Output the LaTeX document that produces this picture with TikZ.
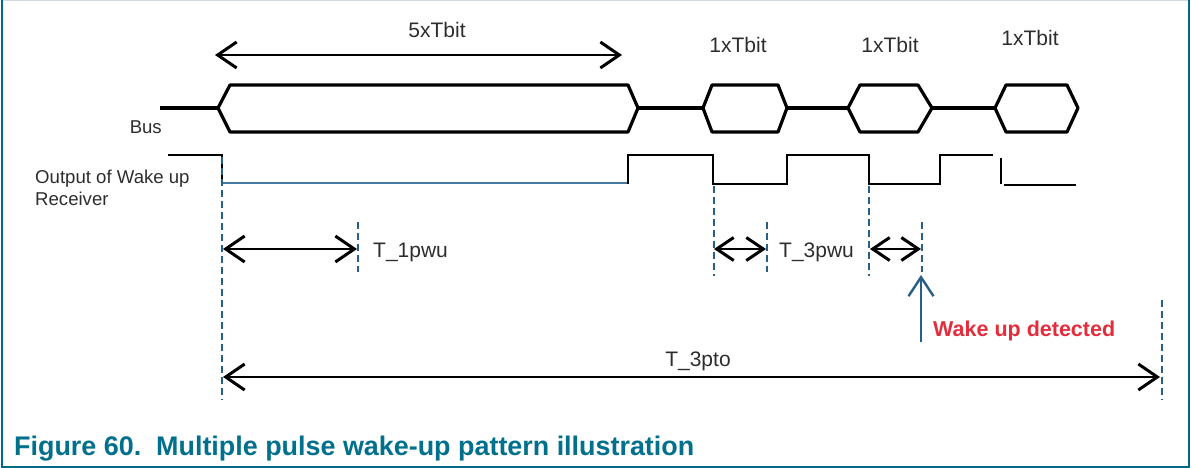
\documentclass[tikz,border=0pt]{standalone}
\usepackage{fontspec}
\setmainfont{Liberation Sans}
\usetikzlibrary{arrows.meta}
\definecolor{framec}{RGB}{0,105,135}
\definecolor{toplinec}{RGB}{205,220,228}
\definecolor{captc}{RGB}{0,112,140}
\definecolor{guidec}{RGB}{40,95,135}
\definecolor{thinblue}{RGB}{70,120,160}
\definecolor{wred}{RGB}{228,45,60}
\definecolor{txt}{RGB}{45,45,45}
\begin{document}
\begin{tikzpicture}[x=1pt,y=-1pt,
  busline/.style={line width=3.2pt, line join=round, black},
  sigline/.style={line width=2.6pt, black},
  guide/.style={line width=2.3pt, guidec, dash pattern=on 7pt off 4pt},
  barb/.tip={Straight Barb[length=19pt,width=26pt,line width=3pt]},
  sbarb/.tip={Straight Barb[length=17pt,width=23pt,line width=3pt]},
  dimarrow/.style={line width=2.8pt, black, {barb}-{barb}},
  sdimarrow/.style={line width=2.8pt, black, {sbarb}-{sbarb}},
  lbl/.style={font=\fontsize{21}{24}\selectfont, text=txt, inner sep=0pt},
  slbl/.style={font=\fontsize{18.6}{22}\selectfont, text=txt, inner sep=0pt},
]
\useasboundingbox (0,0) rectangle (1192,468);
% frame
\draw[toplinec, line width=1.5pt] (1.5,0.75) -- (1188.5,0.75);
\draw[framec, line width=2pt] (1.5,0) -- (1.5,466.5) -- (1188.5,466.5) -- (1188.5,0);

% bus
\draw[busline] (160,108) -- (218,108);
\draw[busline] (218,108) -- (230,85) -- (628,85) -- (638,108) -- (628,132) -- (230,132) -- cycle;
\draw[busline] (638,108) -- (703,108);
\draw[busline] (703,108) -- (712,85) -- (778,85) -- (787,108) -- (778,132) -- (712,132) -- cycle;
\draw[busline] (787,108) -- (848,108);
\draw[busline] (848,108) -- (860,85) -- (918,85) -- (932,108) -- (918,132) -- (860,132) -- cycle;
\draw[busline] (932,108) -- (995,108);
\draw[busline] (995,108) -- (1006,85) -- (1067,85) -- (1078,108) -- (1067,132) -- (1006,132) -- cycle;

% output of wake up receiver
\draw[sigline] (168,155) -- (222,155) -- (222,183);
\draw[thinblue, line width=1.6pt] (222,183) -- (628,183);
\draw[sigline] (628,184) -- (628,155) -- (713,155) -- (713,184) -- (787,184) -- (787,155) -- (869,155) -- (869,184) -- (940,184) -- (940,155) -- (993,155);
\draw[sigline] (1001,158) -- (1001,184);
\draw[sigline] (1004,185) -- (1076,185);

% guide coordinates
\coordinate (g0t) at (222,157);  \coordinate (g0b) at (222,400);
\coordinate (g1t) at (358,222);  \coordinate (g1b) at (358,272);
\coordinate (g2t) at (714,186);  \coordinate (g2b) at (714,276);
\coordinate (g3t) at (767,222);  \coordinate (g3b) at (767,272);
\coordinate (g4t) at (869,186);  \coordinate (g4b) at (869,276);
\coordinate (g5t) at (922,222);  \coordinate (g5b) at (922,272);
\coordinate (g6t) at (1162,300); \coordinate (g6b) at (1162,400);
\foreach \g in {0,...,6} \draw[guide] (g\g t) -- (g\g b);

% dimension arrows
\coordinate (a5l) at (215,55); \coordinate (a5r) at (622,55);
\draw[dimarrow] (a5l) -- (a5r);
\coordinate (a1l) at (223,249); \coordinate (a1r) at (357,249);
\draw[dimarrow] (a1l) -- (a1r);
\coordinate (a3l) at (714,249); \coordinate (a3r) at (766,249);
\draw[sdimarrow] (a3l) -- (a3r);
\coordinate (a4l) at (870,249); \coordinate (a4r) at (921,249);
\draw[sdimarrow] (a4l) -- (a4r);
\coordinate (apl) at (223,377); \coordinate (apr) at (1160,377);
\draw[dimarrow] (apl) -- (apr);

% wake-up detected arrow
\coordinate (wb) at (921,342); \coordinate (wt) at (921,275);
\draw[guidec, line width=2.4pt, -{Straight Barb[length=19pt,width=25pt,line width=2.4pt]}] (wb) -- (wt);

% labels
\node[lbl] (l5) at (437,30) {5xTbit};
\node[lbl] (l1a) at (738,45) {1xTbit};
\node[lbl] (l1b) at (890,45) {1xTbit};
\node[lbl] (l1c) at (1030,38) {1xTbit};
\node[slbl, anchor=east] (lbus) at (162,127) {Bus};
\node[slbl, anchor=base west] (lout) at (35,183) {Output of Wake up};
\node[slbl, anchor=base west] (lrec) at (35,205) {Receiver};
\node[lbl, anchor=base west] (lt1) at (373,257) {T\_1pwu};
\node[lbl, anchor=base west] (lt3) at (779,257) {T\_3pwu};
\node[lbl, anchor=base] (ltp) at (698,366) {T\_3pto};
\node[font=\bfseries\fontsize{21.5}{24}\selectfont, text=wred, inner sep=0pt, anchor=base west] (lwd) at (933,336) {Wake up detected};
\node[font=\bfseries\fontsize{26.9}{30}\selectfont, text=captc, inner sep=0pt, anchor=base west] (cap) at (14,455) {Figure 60.\ \ Multiple pulse wake-up pattern illustration};
\end{tikzpicture}
\end{document}
